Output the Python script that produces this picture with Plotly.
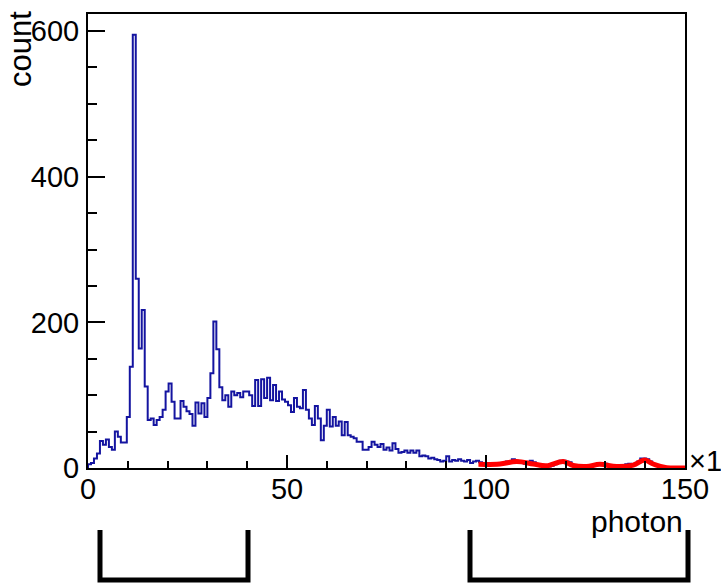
import numpy as np
import plotly.graph_objects as go

# ---------------- data ----------------
bin_width = 0.75
x_min, x_max = 0.0, 150.0
counts = [
    5, 7, 13, 20, 37, 32, 39, 29, 25, 50,
    43, 35, 35, 70, 139, 595, 260, 164, 217, 112,
    66, 68, 59, 66, 70, 80, 105, 116, 91, 68,
    68, 92, 84, 78, 74, 58, 90, 75, 89, 70,
    96, 130, 201, 163, 111, 93, 100, 84, 105, 100,
    103, 97, 105, 105, 100, 85, 121, 85, 122, 96,
    124, 93, 114, 92, 105, 94, 91, 86, 77, 96,
    84, 82, 107, 80, 68, 59, 85, 68, 38, 58,
    80, 57, 70, 58, 64, 45, 63, 45, 43, 41,
    36, 36, 25, 25, 29, 36, 32, 29, 33, 25,
    28, 24, 34, 26, 21, 22, 24, 21, 24, 21,
    24, 16, 17, 16, 13, 14, 12, 11, 9, 10,
    16, 9, 11, 10, 12, 10, 9, 11, 7, 9,
    10, 8, 6, 5, 7, 5, 6, 5, 7, 6,
    9, 8, 12, 10, 9, 8, 6, 7, 10, 8,
    5, 4, 3, 4, 2, 3, 5, 8, 10, 10,
    9, 8, 4, 3, 2, 2, 3, 1, 2, 3,
    4, 5, 6, 6, 3, 2, 2, 1, 2, 3,
    5, 6, 4, 6, 9, 13, 13, 12, 9, 5,
    3, 1, 1, 0, 1, 0, 0, 1, 0, 0,
]
fit_x = [98.1, 103.5, 107.7, 111.9, 115.2, 119.4, 121.9, 125.3, 128.6,
         132.8, 137.0, 139.9, 142.0, 145.4, 149.2, 150.0]
fit_y = [5, 5.5, 9, 5.5, 3, 9, 3.5, 2, 5, 2, 4, 11, 5.5, 0.5, 0, 0]

x_ticks = [0, 50, 100, 150]
y_ticks = [0, 200, 400, 600]
y_max = 623.4

# ---------------- build ----------------
edges = x_min + bin_width * np.arange(len(counts) + 1)
hx = [edges[0]] + list(edges[:-1]) + [edges[-1], edges[-1]]
hy = [0] + list(counts) + [counts[-1], 0]

FONT = "Liberation Sans, Arial, Helvetica, sans-serif"

fig = go.Figure()
fig.add_trace(go.Scatter(
    x=hx, y=hy, mode="lines", line_shape="hv",
    line=dict(color="#1414a0", width=2), showlegend=False, hoverinfo="skip",
))
fig.add_trace(go.Scatter(
    x=fit_x, y=fit_y, mode="lines", line_shape="spline",
    line=dict(color="#ff0000", width=5), showlegend=False,
    hoverinfo="skip", cliponaxis=False,
))

fig.update_layout(
    width=721, height=586,
    margin=dict(l=88, r=36, t=14, b=118, pad=0),
    paper_bgcolor="white", plot_bgcolor="white",
    font=dict(family=FONT, size=28, color="black"),
    xaxis=dict(
        range=[x_min, x_max], showgrid=False, zeroline=False,
        showline=True, linecolor="black", linewidth=2, mirror=True,
        tickmode="array", tickvals=x_ticks, ticktext=[str(v) for v in x_ticks],
        ticks="inside", ticklen=13, tickwidth=2, tickcolor="black",
        minor=dict(ticks="inside", dtick=10, ticklen=7, tickwidth=2, tickcolor="black"),
        tickfont=dict(size=29, family=FONT), ticklabelstandoff=-6,
    ),
    yaxis=dict(
        range=[0, y_max], showgrid=False, zeroline=False,
        showline=True, linecolor="black", linewidth=2, mirror=True,
        tickmode="array", tickvals=y_ticks, ticktext=[str(v) for v in y_ticks],
        ticks="inside", ticklen=17, tickwidth=2, tickcolor="black",
        minor=dict(ticks="inside", dtick=50, ticklen=9, tickwidth=2, tickcolor="black"),
        tickfont=dict(size=29, family=FONT), ticklabelstandoff=1,
    ),
)

# axis titles (ROOT style, at the ends)
fig.add_annotation(text="count", xref="paper", yref="paper",
                   x=-0.114, y=1.011, xanchor="center", yanchor="top",
                   textangle=-90, showarrow=False, font=dict(size=31, family=FONT))
fig.add_annotation(text="photon", xref="paper", yref="paper",
                   x=1.0, y=-0.117, xanchor="right", yanchor="middle",
                   showarrow=False, font=dict(size=30, family=FONT))
fig.add_annotation(text="×1", xref="paper", yref="paper",
                   x=1.003, y=0.016, xanchor="left", yanchor="middle",
                   showarrow=False, font=dict(size=29, family=FONT))

# bracket marks below the frame
def px2paper(px, py):
    return (px - 88) / 597.0, (468 - py) / 454.0

for (xa, xb) in [(100, 248), (470, 688)]:
    x0, yt = px2paper(xa, 530)
    x1, yb = px2paper(xb, 580)
    fig.add_shape(type="path", xref="paper", yref="paper",
                  path=f"M {x0} {yt} L {x0} {yb} L {x1} {yb} L {x1} {yt}",
                  line=dict(color="black", width=5))

fig.write_html("out.html")
